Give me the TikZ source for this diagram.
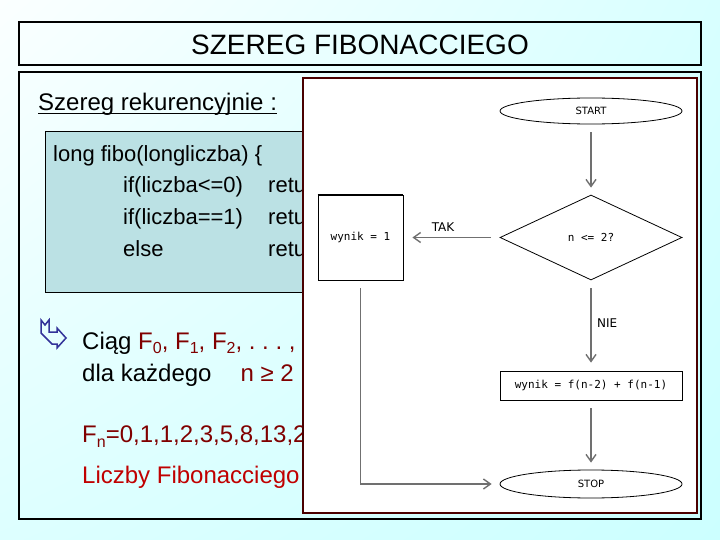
\documentclass[tikz,border=0pt]{standalone}
\usepackage{fontspec}
\setmainfont{Liberation Sans}
\newfontfamily\dvs{DejaVu Sans}
\newfontfamily\dvm{DejaVu Sans Mono}
\usetikzlibrary{shapes.geometric,arrows.meta,shadings}
\definecolor{bgA}{HTML}{FBFFFF}
\definecolor{bgB}{HTML}{D8FFFF}
\definecolor{bgC}{HTML}{DDFFFF}
\definecolor{bgD}{HTML}{CCFFFF}
\definecolor{codebg}{HTML}{BBE1E4}
\definecolor{dred}{HTML}{800000}
\definecolor{lred}{HTML}{C00000}
\definecolor{navyar}{HTML}{333399}
\definecolor{imgborder}{HTML}{4A0000}
\definecolor{flowgray}{HTML}{707070}
\begin{document}
\begin{tikzpicture}[x=1pt,y=-1pt,
  txt/.style={anchor=base west, inner sep=0pt, font=\fontsize{24}{24}\selectfont},
  codetxt/.style={anchor=base west, inner sep=0pt, font=\fontsize{22}{22}\selectfont},
  fbox/.style={draw=black, line width=0.8pt, fill=white, inner sep=0pt, font=\dvm\fontsize{11}{11}\selectfont},
  flab/.style={inner sep=0pt, font=\dvs\fontsize{12}{12}\selectfont},
  flow/.style={draw=flowgray, line width=1.8pt, -{Straight Barb[length=7pt,width=10pt,line width=1.4pt]}}]
\useasboundingbox (0,0) rectangle (720,540);
\shade[upper left=bgA, upper right=bgB, lower left=bgC, lower right=bgD] (0,0) rectangle (720,540);
% title
\draw[line width=1.5pt] (19,22) rectangle (701,65);
\node[anchor=base, inner sep=0pt, font=\fontsize{28}{28}\selectfont] (title) at (360,55) {SZEREG FIBONACCIEGO};
% content frame
\draw[line width=1.5pt] (19,72) rectangle (701,519);
% left panel
\node[txt] (szereg) at (38,111) {Szereg rekurencyjnie :};
\draw[line width=1.2pt] ([yshift=-2.5pt]szereg.base west) -- ([yshift=-2.5pt]szereg.base east);
\draw[fill=codebg, line width=1pt] (45,132) rectangle (330,292);
\node[codetxt] (c1) at (53,162) {long fibo(longliczba) \{};
\node[codetxt] (c2) at (123,193) {if(liczba<=0)};
\node[codetxt] (c2r) at (268,193) {retu};
\node[codetxt] (c3) at (123,224.5) {if(liczba==1)};
\node[codetxt] (c3r) at (268,224.5) {retu};
\node[codetxt] (c4) at (123,256) {else};
\node[codetxt] (c4r) at (268,256) {retu};
% arrow glyph
\draw[navyar, line width=1.5pt, line join=miter] (41,320) -- (45,325) -- (49,320) -- (49,332) -- (57,332) -- (57,328) -- (66,338) -- (57,348) -- (57,344) -- (52,344) -- (41,333) -- cycle;
\node[txt] (ciag) at (82,349) {Ciąg \textcolor{dred}{F\raisebox{-4pt}{\fontsize{16}{16}\selectfont 0}, F\raisebox{-4pt}{\fontsize{16}{16}\selectfont 1}, F\raisebox{-4pt}{\fontsize{16}{16}\selectfont 2}, .\ .\ .\ ,}};
\node[txt] (dla) at (82,381) {dla każdego\hspace{29pt}\textcolor{dred}{n ≥ 2}};
\node[txt, text=dred] (fn) at (82,442) {F\raisebox{-5pt}{\fontsize{16}{16}\selectfont n}=0,1,1,2,3,5,8,13,2};
\node[txt, text=lred] (liczby) at (82,483) {Liczby Fibonacciego};
% flowchart image
\draw[fill=white, draw=imgborder, line width=1.3pt] (303,78) rectangle (697,513);
\node[fbox, ellipse, minimum width=182pt, minimum height=26pt, font=\dvs\fontsize{10}{10}\selectfont] (start) at (591,111) {START};
\node[fbox, diamond, minimum width=182pt, minimum height=85pt] (dec) at (591,237.5) {n <= 2?};
\node[fbox, rectangle, minimum width=85pt, minimum height=85pt] (w1) at (360.5,237.5) {wynik = 1};
\draw[line width=1.8pt] (w1.north west) -- (w1.north east);
\node[fbox, rectangle, minimum width=182pt, minimum height=29pt] (w2) at (591,385.5) {wynik = f(n-2) + f(n-1)};
\node[fbox, ellipse, minimum width=182pt, minimum height=28pt, font=\dvs\fontsize{10}{10}\selectfont] (stop) at (591,484) {STOP};
\draw[flow, shorten <=8pt, shorten >=7pt] (start) -- (dec);
\draw[flow, shorten <=9pt, shorten >=9pt] (dec.west) -- (w1.east);
\node[flab, anchor=base] (tak) at (443,232) {TAK};
\draw[flow, shorten <=8pt, shorten >=8pt] (w1.south) |- (stop.west);
\draw[flow, shorten <=8pt, shorten >=8pt] (dec.south) -- (w2.north);
\node[flab, anchor=base west] (nie) at (597,327) {NIE};
\draw[flow, shorten <=8pt, shorten >=7pt] (w2.south) -- (stop.north);
\end{tikzpicture}
\end{document}
